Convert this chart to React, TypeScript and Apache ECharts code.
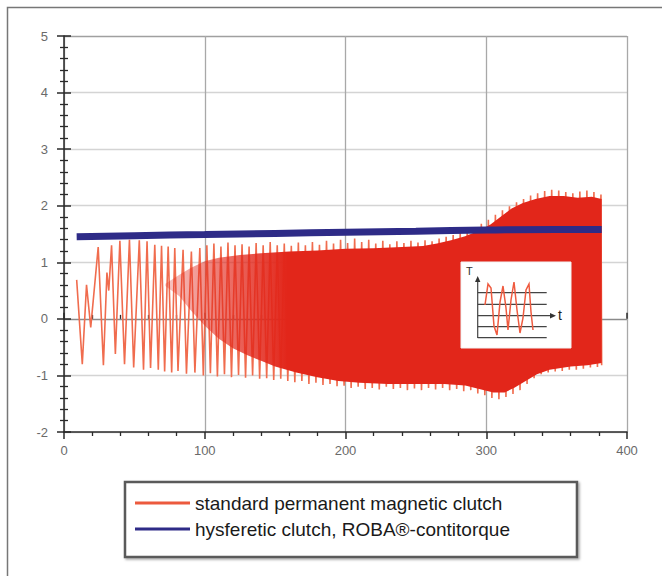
import React, { useEffect, useRef } from "react";
import * as echarts from "echarts";

// x-axis: time (s), y-axis: torque
const xMin = 0;
const xMax = 400;
const yMin = -2;
const yMax = 5;

const redName = "standard permanent magnetic clutch";
const blueName = "hysferetic clutch, ROBA®-contitorque";

// peaks and troughs of the standard permanent magnetic clutch torque
const redTorque: [number, number][] = [
  [9, 0.69], [13, -0.8], [16, 0.6], [19, -0.15], [24.3, 1.27], [28, -0.82], [30.5, 0.82], [31.8, 0.5],
  [33.8, 1.3], [36.5, -0.62], [39.7, 1.38], [43, -0.8], [46.5, 1.4], [49.5, -0.86], [53.5, 1.39],
  [56.5, -0.9], [59, 1.37], [61.5, -0.87], [64.5, 1.31], [67, -0.9], [69.3, 1.29], [71.5, -0.93],
  [74, 1.28], [76.5, -0.95], [78.7, 1.25], [81, -0.92], [84.6, 1.22], [87, -0.97], [90.5, 1.19],
  [93, -0.95], [96.5, 1.25], [99, -1.0], [101.5, 1.3], [104, -0.96], [106.5, 1.33], [109, -1.02],
  [111.5, 1.28], [114, -0.98], [116.5, 1.35], [119, -1.03], [121.5, 1.3], [124, -0.99], [126.5, 1.32],
  [129, -1.04], [131.5, 1.28], [134, -1.0], [136.5, 1.34], [139, -1.06], [141.5, 1.3], [144, -1.05],
  [146.5, 1.36], [149, -1.08], [151.5, 1.3], [154, -1.06], [156.5, 1.33], [159, -1.1], [161.5, 1.29],
  [164, -1.12], [166.5, 1.35], [169, -1.1], [171.5, 1.3], [174, -1.15], [176.5, 1.36], [179, -1.13],
  [181.5, 1.31], [184, -1.17], [186.5, 1.38], [189, -1.15], [191.5, 1.33], [194, -1.19], [196.5, 1.4],
  [199, -1.18], [201.5, 1.34], [204, -1.22], [206.5, 1.42], [209, -1.2], [211.5, 1.36], [214, -1.24],
  [216.5, 1.4], [219, -1.22], [221.5, 1.33], [224, -1.25], [226.5, 1.38], [229, -1.2], [231.5, 1.32],
  [234, -1.24], [236.5, 1.37], [239, -1.22], [241.5, 1.34], [244, -1.26], [246.5, 1.38], [249, -1.23],
  [251.5, 1.35], [254, -1.26], [256.5, 1.39], [259, -1.22], [261.5, 1.37], [264, -1.25], [266.5, 1.42],
  [269, -1.22], [271.5, 1.45], [274, -1.26], [276.5, 1.48], [279, -1.24], [281.5, 1.52], [284, -1.28],
  [286.5, 1.56], [289, -1.26], [291.5, 1.62], [294, -1.32], [296.5, 1.68], [299, -1.35], [301.5, 1.75],
  [304, -1.4], [306.5, 1.84], [309, -1.42], [311.5, 1.92], [314, -1.38], [316.5, 1.99], [319, -1.33],
  [321.5, 2.06], [324, -1.26], [326.5, 2.12], [329, -1.15], [331.5, 2.18], [334, -1.05], [336.5, 2.22],
  [339, -0.98], [341.5, 2.26], [344, -0.95], [346.5, 2.28], [349, -0.93], [351.5, 2.27], [354, -0.92],
  [356.5, 2.24], [359, -0.9], [361.5, 2.22], [364, -0.9], [366.5, 2.25], [369, -0.88], [371.5, 2.27],
  [374, -0.86], [376.5, 2.24], [379, -0.85], [381.5, 2.2], [382, -0.82],
];

// envelope of the densely oscillating part (solid core)
const coreUpper: [number, number][] = [
  [72, 0.62], [82, 0.78], [90, 0.9], [100, 1.02], [110, 1.08], [125, 1.13], [140, 1.16], [160, 1.19],
  [180, 1.21], [200, 1.24], [220, 1.25], [240, 1.27], [255, 1.29], [265, 1.33], [275, 1.39], [285, 1.46],
  [295, 1.56], [303, 1.67], [310, 1.8], [318, 1.95], [326, 2.05], [335, 2.12], [345, 2.17], [355, 2.17],
  [365, 2.14], [375, 2.16], [382, 2.12],
];
const coreLower: [number, number][] = [
  [72, 0.58], [82, 0.4], [90, 0.15], [100, -0.12], [110, -0.35], [120, -0.52], [130, -0.64], [140, -0.74],
  [150, -0.84], [165, -0.95], [180, -1.03], [195, -1.1], [210, -1.13], [230, -1.15], [250, -1.15],
  [270, -1.15], [285, -1.18], [295, -1.24], [305, -1.3], [313, -1.3], [320, -1.22], [328, -1.1],
  [336, -0.98], [345, -0.9], [360, -0.84], [372, -0.82], [382, -0.78],
];

// hysteresis clutch torque
const blueTorque: [number, number][] = [
  [9, 1.45], [50, 1.47], [100, 1.49], [150, 1.51], [200, 1.53], [250, 1.55], [300, 1.57], [350, 1.58], [382, 1.58],
];

const ySplitColors = ["#d4d4d4", "#d4d4d4", "#8a8a8a", "#d4d4d4", "#d4d4d4", "#d4d4d4", "#d4d4d4", "#a0a0a0"];

const FONT = "'Liberation Sans', Arial, sans-serif";

export default function App() {
  const ref = useRef<HTMLDivElement>(null);
  useEffect(() => {
    document.body.style.margin = "0";
    if (!ref.current) return;
    const chart = echarts.init(ref.current, undefined, { renderer: "svg" });
    const axisColor = "#2a2a2a";
    const commonX = {
      type: "value",
      min: xMin,
      max: xMax,
      interval: 100,
      position: "bottom",
      gridIndex: 0,
    };
    const commonY = {
      type: "value",
      min: yMin,
      max: yMax,
      interval: 1,
      position: "left",
      gridIndex: 0,
    };
    const coreFill = new echarts.graphic.LinearGradient(0, 0, 1, 0, [
      { offset: 0, color: "rgba(226,38,26,0.25)" },
      { offset: 0.12, color: "rgba(226,38,26,0.6)" },
      { offset: 0.28, color: "rgba(226,38,26,1)" },
      { offset: 1, color: "rgba(226,38,26,1)" },
    ]);
    chart.setOption({
      animation: false,
      backgroundColor: "#ffffff",
      textStyle: { fontFamily: FONT },
      grid: { left: 64, right: 35, top: 36, bottom: 144, containLabel: false },
      legend: {
        data: [redName, blueName],
        orient: "vertical",
        left: 125,
        top: 482,
        icon: "rect",
        itemWidth: 55,
        itemHeight: 3,
        itemGap: 0,
        selectedMode: false,
        padding: [8, 67, 15, 10],
        borderColor: "#5a5a5a",
        borderWidth: 2.5,
        backgroundColor: "#ffffff",
        shadowColor: "rgba(0,0,0,0.35)",
        shadowBlur: 2,
        shadowOffsetX: 1.5,
        shadowOffsetY: 1.5,
        textStyle: { fontSize: 19, color: "#1a1a1a", fontFamily: FONT, lineHeight: 26 },
      },
      xAxis: [
        {
          ...commonX,
          axisLine: { show: true, onZero: false, lineStyle: { color: axisColor, width: 1.5 } },
          axisTick: { show: true, length: 7, lineStyle: { color: axisColor, width: 1.5 } },
          minorTick: { show: true, splitNumber: 5, length: 4, lineStyle: { color: axisColor, width: 1.3 } },
          axisLabel: { color: "#6a6a6a", fontSize: 13, margin: 12, fontFamily: FONT },
          splitLine: { show: true, lineStyle: { color: "#a8a8a8", width: 1.3 } },
        },
        {
          ...commonX,
          axisLine: { show: false },
          axisTick: { show: true, inside: true, length: 6, lineStyle: { color: axisColor, width: 1.5 } },
          minorTick: { show: true, splitNumber: 5, length: 4, lineStyle: { color: axisColor, width: 1.3 } },
          axisLabel: { show: false },
          splitLine: { show: false },
        },
      ],
      yAxis: [
        {
          ...commonY,
          axisLine: { show: true, onZero: false, lineStyle: { color: axisColor, width: 1.5 } },
          axisTick: { show: true, length: 7, lineStyle: { color: axisColor, width: 1.5 } },
          minorTick: { show: true, splitNumber: 5, length: 4, lineStyle: { color: axisColor, width: 1.3 } },
          axisLabel: { color: "#6a6a6a", fontSize: 13, margin: 16, fontFamily: FONT },
          splitLine: { show: true, lineStyle: { color: ySplitColors, width: 1.3 } },
        },
        {
          ...commonY,
          axisLine: { show: false },
          axisTick: { show: true, inside: true, length: 7, lineStyle: { color: axisColor, width: 1.5 } },
          minorTick: { show: true, splitNumber: 5, length: 4, lineStyle: { color: axisColor, width: 1.3 } },
          axisLabel: { show: false },
          splitLine: { show: false },
        },
      ],
      series: [
        {
          name: redName,
          type: "line",
          xAxisIndex: 0,
          yAxisIndex: 0,
          data: redTorque,
          showSymbol: false,
          symbol: "none",
          lineStyle: { color: "#f06c4e", width: 1.6 },
          itemStyle: { color: "#ec5a3e" },
          z: 2,
          silent: true,
        },
        {
          name: "core",
          type: "custom",
          xAxisIndex: 0,
          yAxisIndex: 0,
          data: [[coreUpper[0][0], coreUpper[0][1]]],
          silent: true,
          z: 3,
          renderItem: (_params: any, api: any) => {
            const pts = [
              ...coreUpper.map((p) => api.coord(p)),
              ...coreLower.slice().reverse().map((p) => api.coord(p)),
            ];
            return { type: "polygon", shape: { points: pts }, style: { fill: coreFill } };
          },
        },
        {
          name: blueName,
          type: "line",
          xAxisIndex: 0,
          yAxisIndex: 0,
          data: blueTorque,
          showSymbol: false,
          symbol: "none",
          smooth: true,
          lineStyle: { color: "#2e2b87", width: 7 },
          itemStyle: { color: "#2e2b87" },
          z: 4,
          silent: true,
        },
      ],
      graphic: [
        {
          type: "polyline",
          z: 100,
          silent: true,
          shape: { points: [[7.5, 576], [7.5, 7.5], [662, 7.5]] },
          style: { stroke: "#777", lineWidth: 1.5, fill: null },
        },
        {
          type: "group",
          z: 100,
          silent: true,
          children: [
            { type: "rect", z: 100, shape: { x: 461, y: 262, width: 110, height: 86 }, style: { fill: "#ffffff", stroke: "#f2f2f2", lineWidth: 1 } },
            { type: "line", z: 101, shape: { x1: 477.7, y1: 338, x2: 477.7, y2: 281 }, style: { stroke: "#444", lineWidth: 1.2 } },
            { type: "polygon", z: 101, shape: { points: [[475, 282], [480.4, 282], [477.7, 276]] }, style: { fill: "#333" } },
            { type: "line", z: 101, shape: { x1: 477.7, y1: 292.7, x2: 546.7, y2: 292.7 }, style: { stroke: "#444", lineWidth: 1.3 } },
            { type: "line", z: 101, shape: { x1: 477.7, y1: 304.3, x2: 546.7, y2: 304.3 }, style: { stroke: "#444", lineWidth: 1.3 } },
            { type: "line", z: 101, shape: { x1: 477.7, y1: 315.7, x2: 551, y2: 315.7 }, style: { stroke: "#444", lineWidth: 1.3 } },
            { type: "polygon", z: 101, shape: { points: [[550, 313], [550, 318.4], [556, 315.7]] }, style: { fill: "#333" } },
            { type: "line", z: 101, shape: { x1: 477.7, y1: 326.7, x2: 546.7, y2: 326.7 }, style: { stroke: "#444", lineWidth: 1.3 } },
            { type: "line", z: 101, shape: { x1: 477.7, y1: 337.7, x2: 546.7, y2: 337.7 }, style: { stroke: "#444", lineWidth: 1.3 } },
            {
              type: "polyline",
              z: 102,
              shape: {
                points: [
                  [485, 305], [488, 284], [491, 288], [494, 326], [497, 335], [500, 302], [503, 286],
                  [506, 308], [508, 330], [511, 300], [514, 282], [517, 310], [520, 333], [523, 318],
                  [526, 290], [529, 284], [531, 312], [533, 330],
                ],
              },
              style: { stroke: "#ef5b40", lineWidth: 1.5, fill: null },
            },
            { type: "text", z: 102, style: { x: 466, y: 265, text: "T", fontSize: 11, fill: "#333", fontFamily: FONT } },
            { type: "text", z: 102, style: { x: 558, y: 308, text: "t", fontSize: 14, fill: "#222", fontFamily: FONT } },
          ],
        },
      ],
    });
    return () => chart.dispose();
  }, []);
  return (
    <div
      ref={ref}
      style={{ position: "fixed", left: 0, top: 0, width: 662, height: 576, background: "#fff" }}
    />
  );
}
